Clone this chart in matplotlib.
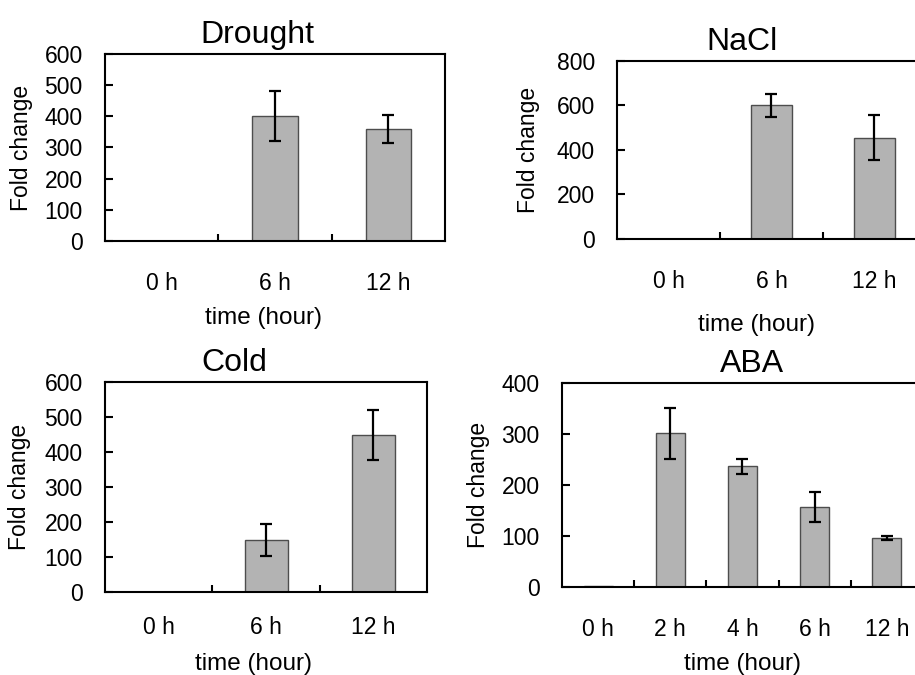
import numpy as np
import matplotlib
matplotlib.use("Agg")
import matplotlib.pyplot as plt
from matplotlib.ticker import FixedLocator

plt.rcParams['font.family'] = ['Liberation Sans', 'DejaVu Sans']

# Data
drought_times = ['0 h', '6 h', '12 h']
drought_vals = [0, 400, 360]
drought_err = [0, 80, 45]

nacl_times = ['0 h', '6 h', '12 h']
nacl_vals = [0, 600, 455]
nacl_err = [0, 50, 100]

cold_times = ['0 h', '6 h', '12 h']
cold_vals = [0, 148, 448]
cold_err = [0, 45, 71]

aba_times = ['0 h', '2 h', '4 h', '6 h', '12 h']
aba_vals = [2, 302, 237, 157, 96]
aba_err = [0, 50, 15, 29, 4]

fig = plt.figure(figsize=(9.15, 6.75), dpi=100)


def panel(rect, title, times, vals, err, ymax, ystep,
          title_x, xlab_x, xpad, xlabpad, ylabpad):
    ax = fig.add_axes(rect)
    x = np.arange(len(times))
    ax.bar(x, vals, width=0.4, color='#b3b3b3', edgecolor='#4d4d4d', linewidth=1.0, zorder=2)
    ax.errorbar(x[1:], vals[1:], yerr=err[1:], fmt='none', ecolor='black',
                elinewidth=1.6, capsize=4, capthick=1.6, zorder=3)
    ax.set_xlim(-0.5, len(times) - 0.5)
    ax.set_ylim(0, ymax)
    ax.set_yticks(np.arange(0, ymax + 1, ystep))
    ax.set_xticks(x)
    ax.set_xticklabels(times)
    # small inward ticks between categories
    ax.xaxis.set_minor_locator(FixedLocator(np.arange(0.5, len(times) - 1, 1.0)))
    ax.tick_params(axis='x', which='major', length=0, pad=xpad, labelsize=16.5)
    ax.tick_params(axis='x', which='minor', direction='in', length=5, width=1.5)
    ax.tick_params(axis='y', direction='in', length=6, width=1.5, pad=16, labelsize=16.5)
    for s in ax.spines.values():
        s.set_linewidth(1.5)
    ax.set_title(title, fontsize=23, x=title_x, pad=8)
    ax.set_xlabel('time (hour)', fontsize=17.5, x=xlab_x, labelpad=xlabpad)
    ax.set_ylabel('Fold change', fontsize=16.5, labelpad=ylabpad)
    return ax


panel([0.1148, 0.643, 0.3716, 0.277], 'Drought', drought_times, drought_vals, drought_err,
      600, 100, 0.447, 0.465, 22, 9, 8)
panel([0.6743, 0.646, 0.3377, 0.2637], 'NaCl', nacl_times, nacl_vals, nacl_err,
      800, 200, 0.405, 0.453, 22.5, 15, 12)
panel([0.1148, 0.123, 0.352, 0.311], 'Cold', cold_times, cold_vals, cold_err,
      600, 100, 0.40, 0.46, 17.5, 10, 10)
panel([0.6142, 0.1304, 0.3945, 0.302], 'ABA', aba_times, aba_vals, aba_err,
      400, 100, 0.526, 0.50, 22, 9, 8)

fig.savefig('out.png', dpi=100)
